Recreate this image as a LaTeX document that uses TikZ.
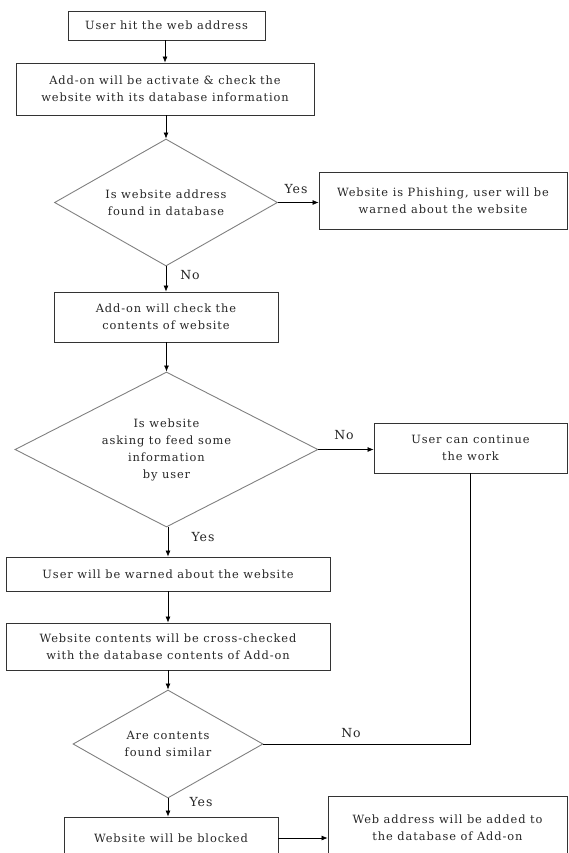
\documentclass[tikz,border=0pt]{standalone}
\usepackage{fontspec}
\setmainfont{DejaVu Serif}[LetterSpace=8]
\usetikzlibrary{shapes.geometric,arrows.meta}
\begin{document}
\begin{tikzpicture}[x=1pt,y=-1pt,
  every node/.style={font=\fontsize{11.4}{17}\selectfont, text=black!85, align=center, inner sep=0pt},
  box/.style={draw=black!80, line width=0.8pt, rectangle},
  dec/.style={draw=black!50, line width=0.9pt, diamond},
  lbl/.style={font=\fontsize{12.5}{14}\selectfont},
  arr/.style={-{Latex[length=6pt,width=5pt]}, line width=0.7pt, black},
  ln/.style={line width=0.7pt, black}]
\useasboundingbox (0,0) rectangle (568,853);
\clip (0,0) rectangle (568,853);
\node[box, minimum width=197pt, minimum height=29pt] (b1) at (166.5,25.5) {User hit the web address};
\node[box, minimum width=298pt, minimum height=52pt] (b2) at (165,89) {Add-on will be activate \& check the\\website with its database information};
\node[dec, minimum width=223pt, minimum height=127pt, aspect=1.756] (d1) at (166,202.5) {Is website address\\found in database};
\node[box, minimum width=248pt, minimum height=57pt] (y1) at (443,200.5) {Website is Phishing, user will be\\warned about the website};
\node[box, minimum width=224pt, minimum height=50pt] (b3) at (166,317) {Add-on will check the\\contents of website};
\node[dec, minimum width=303pt, minimum height=155pt, aspect=1.955] (d2) at (166.5,449.5) {Is website\\asking to feed some\\information\\by user};
\node[box, minimum width=193pt, minimum height=50pt] (c1) at (470.5,448) {User can continue\\the work};
\node[box, minimum width=324pt, minimum height=34pt] (b4) at (168,574) {User will be warned about the website};
\node[box, minimum width=324pt, minimum height=47pt] (b5) at (168,646.5) {Website contents will be cross-checked\\with the database contents of Add-on};
\node[dec, minimum width=190pt, minimum height=108pt, aspect=1.76] (d3) at (168,744) {Are contents\\found similar};
\node[box, minimum width=214pt, minimum height=42pt] (b6) at (171,838) {Website will be blocked};
\node[box, minimum width=239pt, minimum height=64pt] (b7) at (447.5,828) {Web address will be added to\\the database of Add-on};

\draw[arr] (b2.north |- b1.south) -- (b2.north);
\draw[arr] (d1.north |- b2.south) -- (d1.north);
\draw[arr] (d1.east) -- (y1.west |- d1.east);
\draw[arr] (d1.south) -- (b3.north);
\draw[arr] (d2.north |- b3.south) -- (d2.north);
\draw[arr] (d2.east) -- (c1.west |- d2.east);
\draw[arr] (b4.north |- d2.south) -- (b4.north);
\draw[arr] (b5.north |- b4.south) -- (b5.north);
\draw[arr] (d3.north |- b5.south) -- (d3.north);
\draw[arr] (d3.south) -- (d3.south |- b6.north);
\draw[arr] (b6.east) -- (b7.west |- b6.east);
\draw[ln] (d3.east) -- (d3.east -| c1.south) -- (c1.south);

\node[lbl] (l1) at (296,189) {Yes};
\node[lbl] (l2) at (190,275) {No};
\node[lbl] (l3) at (344,435) {No};
\node[lbl] (l4) at (203,537) {Yes};
\node[lbl] (l5) at (351,733) {No};
\node[lbl] (l6) at (201,802) {Yes};
\end{tikzpicture}
\end{document}
